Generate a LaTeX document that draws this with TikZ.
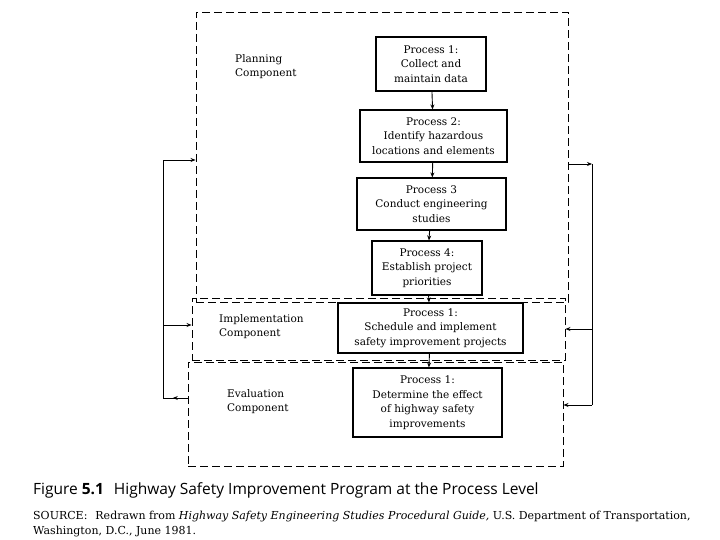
\documentclass[tikz,border=0pt]{standalone}
\usepackage{fontspec}
\setmainfont{DejaVu Serif}
\newfontfamily\capfont{Open Sans}
\usetikzlibrary{arrows.meta,decorations.markings}

\begin{document}
\begin{tikzpicture}[
    x=1pt, y=-1pt,
    every node/.style={
        font=\fontsize{10.5}{14.5}\selectfont,
        inner sep=0pt
    },
    process/.style={
        draw,
        line width=1.1pt,
        align=center
    },
    component/.style={
        draw,
        dashed,
        dash pattern=on 8pt off 4pt,
        line width=0.9pt
    },
    label/.style={
        anchor=north west,
        align=left
    },
    flow/.style={
        -{Stealth[length=5pt,width=4pt]},
        line width=0.9pt
    },
    loop/.style={
        line width=0.9pt
    },
    midarrow/.style={
        line width=0.9pt,
        decoration={markings, mark=at position 0.6 with {\arrow{Stealth[length=5pt,width=4pt]}}},
        postaction={decorate}
    }
]

\useasboundingbox (0,0) rectangle (720,540);

% 구성 요소 (점선 상자)
\node[component, minimum width=372pt, minimum height=290pt] (plan) at (382,157) {};
\node[component, minimum width=373pt, minimum height=62pt] (impl) at (378.5,329) {};
\node[component, minimum width=375pt, minimum height=104pt] (eval) at (375.5,414) {};

\node[label] (planlabel) at (235,54) {Planning\\Component};
\node[label] (impllabel) at (219,314) {Implementation\\Component};
\node[label] (evallabel) at (227,389) {Evaluation\\Component};

% 과정 (노드)
\node[process, minimum width=110pt, minimum height=54pt] (p1) at (431,64) {Process 1:\\Collect and\\maintain data};
\node[process, minimum width=147pt, minimum height=52pt] (p2) at (433.5,136) {Process 2:\\Identify hazardous\\locations and elements};
\node[process, minimum width=149pt, minimum height=52pt] (p3) at (431.5,204) {Process 3\\Conduct engineering\\studies};
\node[process, minimum width=110pt, minimum height=54pt] (p4) at (427,268) {Process 4:\\Establish project\\priorities};
\node[process, minimum width=185pt, minimum height=50pt] (p5) at (430.5,328) {Process 1:\\Schedule and implement\\safety improvement projects};
\node[process, minimum width=149pt, minimum height=69pt] (p6) at (427.5,402.5) {Process 1:\\Determine the effect\\of highway safety\\improvements};

% 간선
\draw[flow] (p1) -- (p2);
\draw[flow] (p2) -- (p3);
\draw[flow] (p3) -- (p4);
\draw[flow] (p4) -- (p5);
\draw[flow] (p5) -- (p6);

% 되먹임 (왼쪽)
\coordinate (lt) at (163,160);
\coordinate (lm) at (163,325);
\coordinate (lb) at (163,398);
\draw[midarrow] (eval.west |- lb) -- (lb);
\draw[loop] (lb) -- (lt);
\draw[flow] (lt) -- (plan.west |- lt);
\draw[flow] (lm) -- (impl.west |- lm);

% 되먹임 (오른쪽)
\coordinate (rt) at (592,164);
\coordinate (rm) at (592,329);
\coordinate (rb) at (592,405);
\draw[flow] (plan.east |- rt) -- (rt);
\draw[loop] (rt) -- (rb);
\draw[flow] (rm) -- (impl.east |- rm);
\draw[flow] (rb) -- (eval.east |- rb);

% 그림 설명
\node[anchor=base west, font=\capfont\fontsize{15.5}{18}\selectfont] (caption) at (33,494)
  {Figure \textbf{5.1}\hspace{10pt}Highway Safety Improvement Program at the Process Level};
\node[anchor=base west, align=left, font=\fontsize{11}{15}\selectfont] (source) at (33,534)
  {SOURCE:\hspace{8pt}Redrawn from \textit{Highway Safety Engineering Studies Procedural Guide,} U.S. Department of Transportation,\\Washington, D.C., June 1981.};

\end{tikzpicture}
\end{document}
